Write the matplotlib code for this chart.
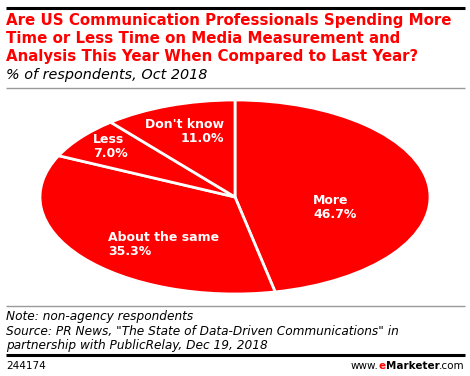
import matplotlib
matplotlib.use("Agg")
import matplotlib.pyplot as plt
from matplotlib.lines import Line2D
from matplotlib.offsetbox import TextArea, HPacker, AnnotationBbox

categories = ["More", "About the same", "Less", "Don't know"]
values = [46.7, 35.3, 7.0, 11.0]
value_labels = ["46.7%", "35.3%", "7.0%", "11.0%"]

W, H = 470, 376
fig = plt.figure(figsize=(W / 100, H / 100), dpi=100)
fig.patch.set_facecolor("white")

def fx(x):
    return x / W

def fy(y):
    return 1 - y / H

def hline(y, x0, x1, color, lw):
    fig.add_artist(Line2D([fx(x0), fx(x1)], [fy(y), fy(y)], color=color, lw=lw,
                          transform=fig.transFigure, solid_capstyle="butt"))

RED = "#ff0000"
FONT = "DejaVu Sans"

hline(7.5, 6, 465, "black", 2.2)
title_lines = ["Are US Communication Professionals Spending More",
               "Time or Less Time on Media Measurement and",
               "Analysis This Year When Compared to Last Year?"]
for i, line in enumerate(title_lines):
    fig.text(fx(6), fy(24.5 + 18.3 * i), line, color=RED, fontsize=10.8, fontweight="bold",
             family=FONT, va="baseline", ha="left")
fig.text(fx(6), fy(79), "% of respondents, Oct 2018", color="black", fontsize=10.4,
         style="italic", va="baseline", ha="left", family=FONT)
hline(88, 6, 465, "#999999", 1.0)

# Pie (ellipse)
left, right, top, bottom = 40, 430, 100, 294
ax = fig.add_axes([fx(left), fy(bottom), fx(right - left), (bottom - top) / H])
wedges, _ = ax.pie(values, startangle=90, counterclock=False, colors=[RED] * 4,
                   wedgeprops=dict(edgecolor="white", linewidth=2.0))
ax.set_aspect("auto")
ax.set_xlim(-1, 1)
ax.set_ylim(-1, 1)
ax.axis("off")

lab_kw = dict(color="white", fontsize=9.0, fontweight="bold", family=FONT,
              va="top", linespacing=1.1)
label_pos = [(313, 194, "left"), (108, 231, "left"), (93, 133, "left"), (224, 118, "right")]
for cat, vl, (px, py, ha) in zip(categories, value_labels, label_pos):
    fig.text(fx(px), fy(py), f"{cat}\n{vl}", ha=ha, **lab_kw)

hline(306, 6, 465, "#999999", 1.0)
note_lines = ["Note: non-agency respondents",
              "Source: PR News, \"The State of Data-Driven Communications\" in",
              "partnership with PublicRelay, Dec 19, 2018"]
for i, line in enumerate(note_lines):
    fig.text(fx(6), fy(320 + 14.5 * i), line, fontsize=8.75, style="italic", va="baseline",
             ha="left", family=FONT)
hline(355, 6, 465, "black", 2.2)
fig.text(fx(6), fy(366), "244174", fontsize=7.5, va="center", ha="left", family=FONT)

parts = [("www.", "black", "normal"), ("e", RED, "bold"), ("Marketer", "black", "bold"),
         (".com", "black", "normal")]
boxes = [TextArea(t, textprops=dict(color=c, fontweight=w, fontsize=7.5, family=FONT))
         for t, c, w in parts]
pack = HPacker(children=boxes, align="baseline", pad=0, sep=0)
ab = AnnotationBbox(pack, (fx(465), fy(366)), xycoords="figure fraction",
                    box_alignment=(1, 0.5), frameon=False, pad=0)
fig.add_artist(ab)

fig.savefig("out.png", dpi=100, facecolor="white")
